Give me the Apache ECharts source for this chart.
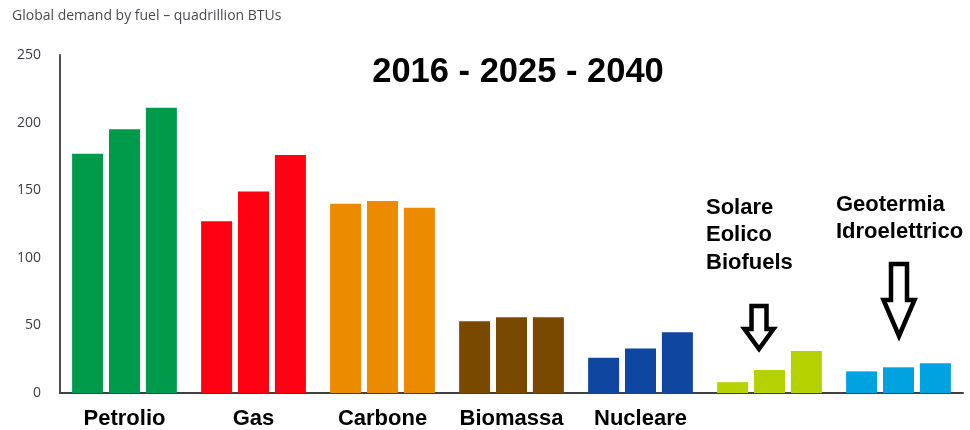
<!DOCTYPE html>
<html>
<head>
<meta charset="utf-8">
<script src="https://cdn.jsdelivr.net/npm/echarts@6/dist/echarts.min.js"></script>
<style>
html,body{margin:0;padding:0;background:#fff;}
#chart{width:970px;height:430px;}
</style>
</head>
<body>
<div id="chart"></div>
<script>
const categories = ['Petrolio', 'Gas', 'Carbone', 'Biomassa', 'Nucleare', '', ''];
const years = ['2016', '2025', '2040'];
const values2016 = [177, 127, 140, 53, 26, 8, 16];
const values2025 = [195, 149, 142, 56, 33, 17, 19];
const values2040 = [211, 176, 137, 56, 45, 31, 22];
const yTicks = { min: 0, max: 250, interval: 50 };
const categoryColors = ['#009A4B', '#FF0013', '#EC8A00', '#7A4900', '#0F47A0', '#B4D200', '#00A3E0'];

const chartTitle = 'Global demand by fuel \u2013 quadrillion BTUs';
const yearsLabel = years.join(' - ');
const noteRenewables = ['Solare', 'Eolico', 'Biofuels'];
const noteHydro = ['Geotermia', 'Idroelettrico'];

const seriesValues = [values2016, values2025, values2040];

const chart = echarts.init(document.getElementById('chart'), null, { renderer: 'canvas' });

function arrow(cx, top, shaftHalf, wingY, wingHalf, tip) {
  return {
    type: 'polygon',
    shape: {
      points: [
        [cx - shaftHalf, top], [cx + shaftHalf, top], [cx + shaftHalf, wingY],
        [cx + wingHalf, wingY], [cx, tip], [cx - wingHalf, wingY], [cx - shaftHalf, wingY]
      ]
    },
    style: { fill: 'none', stroke: '#000', lineWidth: 4.5, lineJoin: 'miter' },
    z: 10
  };
}

const option = {
  backgroundColor: '#fff',
  animation: false,
  grid: { left: 60, right: 7, top: 55, bottom: 35, containLabel: false },
  xAxis: {
    type: 'category',
    data: categories,
    axisLine: { show: true, lineStyle: { color: '#404040', width: 2 } },
    axisTick: { show: false },
    axisLabel: {
      interval: 0,
      hideOverlap: false,
      margin: 15,
      fontFamily: 'Liberation Sans, Arial, sans-serif',
      fontWeight: 'bold',
      fontSize: 22,
      color: '#000'
    }
  },
  yAxis: {
    type: 'value',
    min: yTicks.min,
    max: yTicks.max,
    interval: yTicks.interval,
    axisLine: { show: true, lineStyle: { color: '#505050', width: 2 } },
    axisTick: { show: false },
    splitLine: { show: false },
    axisLabel: {
      margin: 19,
      fontFamily: 'Open Sans, sans-serif',
      fontSize: 14,
      color: '#3c3c46'
    }
  },
  series: seriesValues.map((vals, si) => ({
    name: years[si],
    type: 'bar',
    barWidth: 31,
    barGap: '19%',
    data: vals.map((v, i) => ({ value: v, itemStyle: { color: categoryColors[i] } }))
  })),
  graphic: [
    {
      type: 'text', left: 12, top: 9,
      style: { text: chartTitle, fontFamily: 'Open Sans, sans-serif', fontSize: 14, fill: '#4a4a55' }
    },
    {
      type: 'text', x: 518, y: 72,
      style: {
        text: yearsLabel, fontFamily: 'Liberation Sans, Arial, sans-serif', fontWeight: 'bold',
        fontSize: 34.5, fill: '#000', align: 'center', verticalAlign: 'middle'
      }
    },
    {
      type: 'text', x: 706, y: 194,
      style: {
        text: noteRenewables.join('\n'), fontFamily: 'Liberation Sans, Arial, sans-serif', fontWeight: 'bold',
        fontSize: 22, lineHeight: 27.5, fill: '#000', align: 'left', verticalAlign: 'top'
      }
    },
    {
      type: 'text', x: 836, y: 191,
      style: {
        text: noteHydro.join('\n'), fontFamily: 'Liberation Sans, Arial, sans-serif', fontWeight: 'bold',
        fontSize: 22, lineHeight: 27, fill: '#000', align: 'left', verticalAlign: 'top'
      }
    },
    arrow(759, 306, 7.5, 329, 14.5, 349),
    arrow(899, 264, 8, 300, 15.5, 336)
  ]
};

chart.setOption(option);
</script>
</body>
</html>
